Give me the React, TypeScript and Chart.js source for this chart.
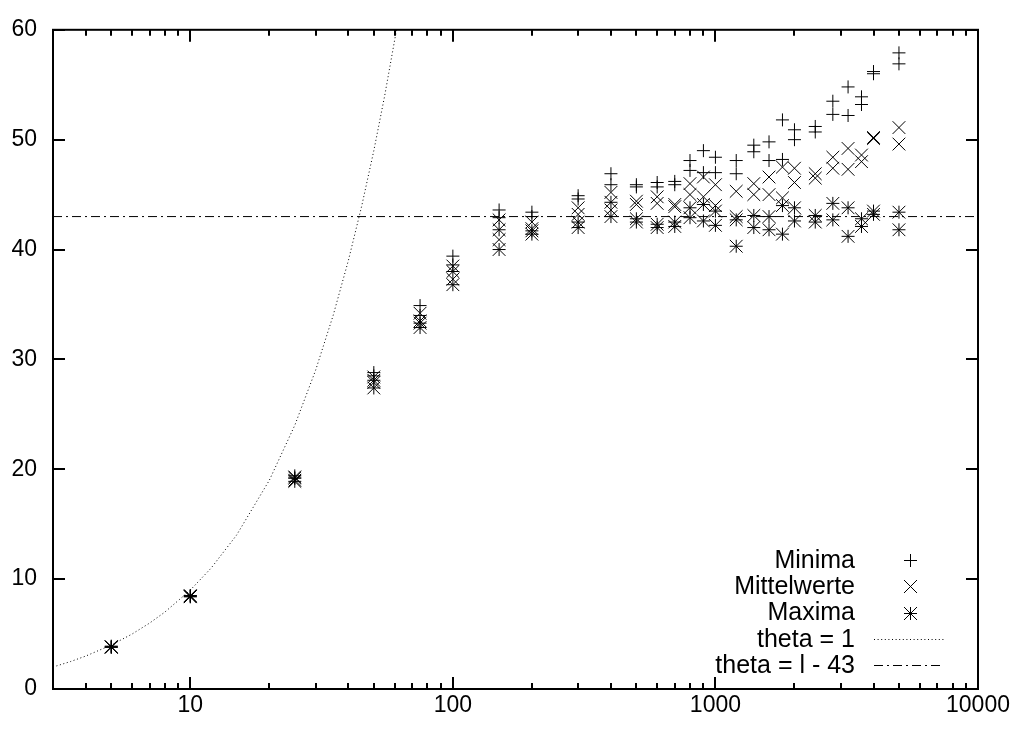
import React, { useEffect, useRef } from 'react';
import { Chart, registerables } from 'chart.js';

Chart.register(...registerables);

// Problem sizes (x, logarithmic)
const problemSizes = [5, 10, 25, 50, 75, 100, 150, 200, 300, 400, 500, 600, 700, 800, 900, 1000, 1200, 1400, 1600, 1800, 2000, 2400, 2800, 3200, 3600, 4000, 5000];

// Two runs per series
const minimaRun1 = [3.9, 8.5, 19.4, 28.8, 34.9, 39.4, 43.6, 43.4, 44.9, 46.9, 45.9, 46.1, 46.2, 48.1, 49.0, 48.4, 48.1, 49.5, 49.8, 51.8, 50.9, 51.2, 53.5, 54.8, 53.9, 56.2, 57.9];
const minimaRun2 = [3.8, 8.4, 19.2, 28.5, 34.0, 38.6, 42.9, 43.0, 44.6, 45.9, 45.7, 45.7, 45.9, 47.2, 47.0, 47.0, 46.9, 48.9, 48.1, 48.2, 50.0, 50.7, 52.3, 52.2, 53.2, 56.0, 56.9];
const mittelRun1 = [3.85, 8.45, 19.3, 28.4, 34.2, 38.5, 42.7, 42.5, 43.8, 45.2, 44.4, 44.8, 44.1, 46.0, 46.6, 45.9, 45.3, 46.0, 46.6, 47.5, 47.4, 46.9, 48.4, 49.2, 48.6, 50.2, 51.1];
const mittelRun2 = [3.8, 8.4, 19.0, 27.9, 33.5, 37.3, 40.9, 41.9, 43.2, 43.6, 44.1, 44.2, 43.9, 45.0, 44.8, 44.0, 43.0, 45.0, 45.0, 44.7, 46.1, 46.5, 47.4, 47.3, 48.0, 50.1, 49.6];
const maximaRun1 = [3.85, 8.5, 19.2, 28.1, 33.3, 38.0, 41.8, 41.7, 42.5, 44.3, 42.8, 42.3, 42.5, 43.8, 44.1, 43.5, 42.7, 43.1, 43.0, 44.0, 43.8, 43.1, 44.2, 43.8, 42.8, 43.5, 43.4];
const maximaRun2 = [3.8, 8.4, 18.9, 27.4, 32.9, 36.8, 40.0, 41.4, 42.0, 43.0, 42.5, 42.0, 42.1, 42.9, 42.6, 42.2, 40.3, 42.0, 41.8, 41.4, 42.6, 42.5, 42.7, 41.2, 42.1, 43.2, 41.8];

// theta = 1 curve
const thetaOneX = [3, 3.5, 4, 5, 6, 7, 8, 10, 12, 15, 20, 25, 30, 35, 40, 45, 50, 55, 61];
const thetaOneY = [2, 2.5, 3, 4, 5, 6, 7, 9, 11, 14, 19, 24, 29, 34, 39, 44, 49, 54, 60];

// theta = l - 43 line
const plateauX = [3, 10000];
const plateauY = [43, 43];

const xTickValues = [10, 100, 1000, 10000];
const xMinorTickValues = [4, 5, 6, 7, 8, 9, 20, 30, 40, 50, 60, 70, 80, 90, 200, 300, 400, 500, 600, 700, 800, 900, 2000, 3000, 4000, 5000, 6000, 7000, 8000, 9000];
const yTickValues = [0, 10, 20, 30, 40, 50, 60];
const legendLabels = ['Minima', 'Mittelwerte', 'Maxima', 'theta = 1', 'theta = l - 43'];

const FONT = '"Liberation Sans", Arial, Helvetica, sans-serif';
const DOTTED = [1, 2.6];
const DASHDOT = [9, 4, 2, 4];
const PLUS_R = 6.5;
const CROSS_R = 9;

function pts(xs: number[], ys: number[]) {
  return xs.map((x, i) => ({ x, y: ys[i] }));
}

function drawGlyph(ctx: CanvasRenderingContext2D, kind: number, x: number, y: number) {
  const r = 6.5;
  ctx.beginPath();
  if (kind !== 1) {
    ctx.moveTo(x - r, y); ctx.lineTo(x + r, y);
    ctx.moveTo(x, y - r); ctx.lineTo(x, y + r);
  }
  if (kind !== 0) {
    ctx.moveTo(x - r, y - r); ctx.lineTo(x + r, y + r);
    ctx.moveTo(x + r, y - r); ctx.lineTo(x - r, y + r);
  }
  ctx.stroke();
}

export default function App() {
  const ref = useRef<HTMLCanvasElement>(null);
  useEffect(() => {
    const canvas = ref.current!;

    const framePlugin = {
      id: 'frame',
      afterDraw(chart: any) {
        const { ctx, chartArea } = chart;
        const xs = chart.scales.x;
        const ys = chart.scales.y;
        const { left, right, top, bottom } = chartArea;
        ctx.save();
        ctx.strokeStyle = '#000';
        ctx.lineWidth = 2;
        ctx.setLineDash([]);
        ctx.strokeRect(left, top, right - left, bottom - top);
        ctx.beginPath();
        const major = 12, minor = 6;
        xTickValues.forEach((v) => {
          const p = Math.round(xs.getPixelForValue(v));
          ctx.moveTo(p, bottom); ctx.lineTo(p, bottom - major);
          ctx.moveTo(p, top); ctx.lineTo(p, top + major);
        });
        xMinorTickValues.forEach((v) => {
          const p = Math.round(xs.getPixelForValue(v));
          ctx.moveTo(p, bottom); ctx.lineTo(p, bottom - minor);
          ctx.moveTo(p, top); ctx.lineTo(p, top + minor);
        });
        yTickValues.forEach((v) => {
          const p = Math.round(ys.getPixelForValue(v));
          ctx.moveTo(left, p); ctx.lineTo(left + major, p);
          ctx.moveTo(right, p); ctx.lineTo(right - major, p);
        });
        ctx.stroke();

        // legend
        ctx.font = `25px ${FONT}`;
        ctx.fillStyle = '#000';
        ctx.textAlign = 'right';
        ctx.textBaseline = 'middle';
        const textRight = right - 123;
        const symX = right - 68;
        const lineL = right - 104;
        const lineR = right - 34;
        legendLabels.forEach((label, i) => {
          const y = bottom - 129 + i * 26.3;
          ctx.fillText(label, textRight, y + 1);
          ctx.lineWidth = 1;
          if (i < 3) {
            ctx.setLineDash([]);
            drawGlyph(ctx, i, Math.round(symX) + 0.5, Math.round(y) + 0.5);
          } else {
            ctx.beginPath();
            ctx.setLineDash(i === 3 ? DOTTED : DASHDOT);
            ctx.moveTo(lineL, Math.round(y) + 0.5);
            ctx.lineTo(lineR, Math.round(y) + 0.5);
            ctx.stroke();
          }
        });
        ctx.restore();
      },
    };

    const markerBase = { borderColor: '#000', backgroundColor: '#000', borderWidth: 1 };

    const chart = new Chart(canvas, {
      type: 'scatter',
      data: {
        datasets: [
          {
            label: legendLabels[3],
            data: pts(thetaOneX, thetaOneY),
            showLine: true,
            pointRadius: 0,
            borderColor: '#000',
            borderWidth: 1,
            borderDash: DOTTED,
            fill: false,
          },
          {
            label: legendLabels[4],
            data: pts(plateauX, plateauY),
            showLine: true,
            pointRadius: 0,
            borderColor: '#000',
            borderWidth: 1,
            borderDash: DASHDOT,
            fill: false,
          },
          {
            ...markerBase,
            label: legendLabels[0],
            data: [...pts(problemSizes, minimaRun1), ...pts(problemSizes, minimaRun2)],
            pointStyle: 'cross',
            pointRadius: PLUS_R,
          },
          {
            ...markerBase,
            label: legendLabels[1],
            data: [...pts(problemSizes, mittelRun1), ...pts(problemSizes, mittelRun2)],
            pointStyle: 'crossRot',
            pointRadius: CROSS_R,
          },
          {
            ...markerBase,
            label: legendLabels[2],
            data: [...pts(problemSizes, maximaRun1), ...pts(problemSizes, maximaRun2)],
            pointStyle: 'cross',
            pointRadius: PLUS_R,
          },
          {
            ...markerBase,
            label: legendLabels[2] + ' (diag)',
            data: [...pts(problemSizes, maximaRun1), ...pts(problemSizes, maximaRun2)],
            pointStyle: 'crossRot',
            pointRadius: CROSS_R,
          },
        ],
      },
      options: {
        animation: false,
        responsive: false,
        maintainAspectRatio: false,
        devicePixelRatio: 1,
        layout: { padding: { left: 0, top: 15, right: 45, bottom: 0 } },
        plugins: { legend: { display: false }, tooltip: { enabled: false } },
        scales: {
          x: {
            type: 'logarithmic',
            min: 3,
            max: 10000,
            bounds: 'data',
            grid: { display: false, drawTicks: false },
            border: { display: false },
            afterBuildTicks: (scale: any) => {
              scale.ticks = xTickValues.map((v) => ({ value: v, major: true }));
            },
            afterFit: (scale: any) => {
              scale.height = 42;
            },
            ticks: {
              autoSkip: false,
              maxRotation: 0,
              minRotation: 0,
              padding: 3,
              color: '#000',
              font: { family: FONT, size: 23 },
              callback: (v: any) => String(v),
            },
          },
          y: {
            type: 'linear',
            min: 0,
            max: 60,
            bounds: 'data',
            grid: { display: false, drawTicks: false },
            border: { display: false },
            afterFit: (scale: any) => {
              scale.width = 53;
            },
            ticks: {
              stepSize: 10,
              padding: 16,
              color: '#000',
              font: { family: FONT, size: 23 },
              callback: (v: any) => String(v),
            },
          },
        },
      },
      plugins: [framePlugin],
    });
    return () => chart.destroy();
  }, []);

  return (
    <div style={{ position: 'fixed', left: 0, top: 0, width: 1023, height: 731, background: '#fff' }}>
      <canvas ref={ref} width={1023} height={731} style={{ display: 'block' }} />
    </div>
  );
}
